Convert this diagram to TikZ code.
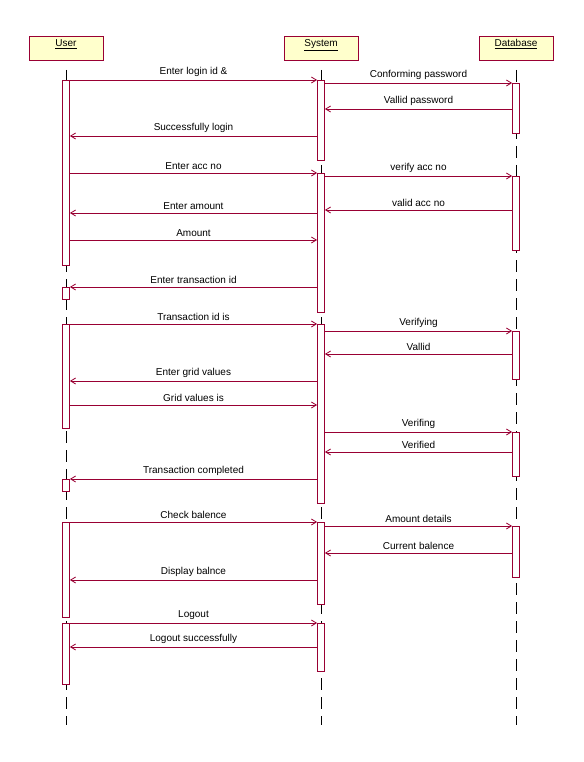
\documentclass[tikz,border=0pt]{standalone}
\usepackage{fontspec}
\setmainfont{Liberation Sans}
\usetikzlibrary{arrows.meta}
\definecolor{umlred}{RGB}{153,0,51}
\definecolor{umlyellow}{RGB}{255,255,204}
\newcommand\actbar[4]{\node[actbox, minimum height={(#4-#3)*1pt}] (#1) at (#2,{(#3+#4)/2}) {};}
\newcommand\msgR[4]{\draw[msg] (#1.east |- 0,#3) -- node[lbl]{#4} (#2.west |- 0,#3);}
\newcommand\msgL[4]{\draw[msg] (#1.west |- 0,#3) -- node[lbl]{#4} (#2.east |- 0,#3);}
\begin{document}
\begin{tikzpicture}[x=1pt,y=-1pt,
 head/.style={draw=umlred, fill=umlyellow, line width=0.8pt, minimum width=74pt, inner xsep=0pt, inner ysep=3pt, text height=7.5pt, text depth=10.5pt, font=\fontsize{10}{11}\selectfont, anchor=north},
 life/.style={draw=black, line width=0.8pt, dash pattern=on 12pt off 7pt},
 actbox/.style={draw=umlred, fill=white, line width=0.8pt, minimum width=7pt, inner sep=0pt},
 msg/.style={draw=umlred, line width=0.8pt, -{Straight Barb[length=5pt,width=6pt]}},
 lbl/.style={font=\fontsize{10}{11}\selectfont, text=black, inner sep=1pt, above=2pt}]
\useasboundingbox (0,0) rectangle (583,762);
% heads
\node[head] (user) at (66,36) {\underline{User}};
\node[head] (sys) at (321,36) {\underline{System}};
\node[head] (db) at (516,36) {\underline{Database}};
% lifelines
\draw[life] (user.south |- 0,70) -- (user.south |- 0,725);
\draw[life] (sys.south |- 0,70) -- (sys.south |- 0,725);
\draw[life] (db.south |- 0,70) -- (db.south |- 0,725);
% activation bars
\actbar{u1}{66}{80}{265}
\actbar{u2}{66}{287}{299}
\actbar{u3}{66}{324}{428}
\actbar{u4}{66}{479}{491}
\actbar{u5}{66}{522}{617}
\actbar{u6}{66}{623}{684}
\actbar{s1}{321}{80}{160}
\actbar{s2}{321}{173}{312}
\actbar{s3}{321}{324}{503}
\actbar{s4}{321}{522}{604}
\actbar{s5}{321}{623}{671}
\actbar{d1}{516}{83}{133}
\actbar{d2}{516}{176}{250}
\actbar{d3}{516}{331}{379}
\actbar{d4}{516}{432}{476}
\actbar{d5}{516}{526}{577}
% messages
\msgR{u1}{s1}{80}{Enter login id \&}
\msgR{s1}{d1}{83}{Conforming password}
\msgL{d1}{s1}{109}{Vallid password}
\msgL{s1}{u1}{136}{Successfully login}
\msgR{u1}{s2}{173}{Enter acc no}
\msgR{s2}{d2}{176}{verify acc no}
\msgL{d2}{s2}{210}{valid acc no}
\msgL{s2}{u1}{213}{Enter amount}
\msgR{u1}{s2}{240}{Amount}
\msgL{s2}{u2}{287}{Enter transaction id}
\msgR{u3}{s3}{324}{Transaction id is}
\msgR{s3}{d3}{331}{Verifying}
\msgL{d3}{s3}{354}{Vallid}
\msgL{s3}{u3}{381}{Enter grid values}
\msgR{u3}{s3}{405}{Grid values is}
\msgR{s3}{d4}{432}{Verifing}
\msgL{d4}{s3}{452}{Verified}
\msgL{s3}{u4}{479}{Transaction completed}
\msgR{u5}{s4}{522}{Check balence}
\msgR{s4}{d5}{526}{Amount details}
\msgL{d5}{s4}{553}{Current balence}
\msgL{s4}{u5}{580}{Display balnce}
\msgR{u6}{s5}{623}{Logout}
\msgL{s5}{u6}{647}{Logout successfully}
\end{tikzpicture}
\end{document}
